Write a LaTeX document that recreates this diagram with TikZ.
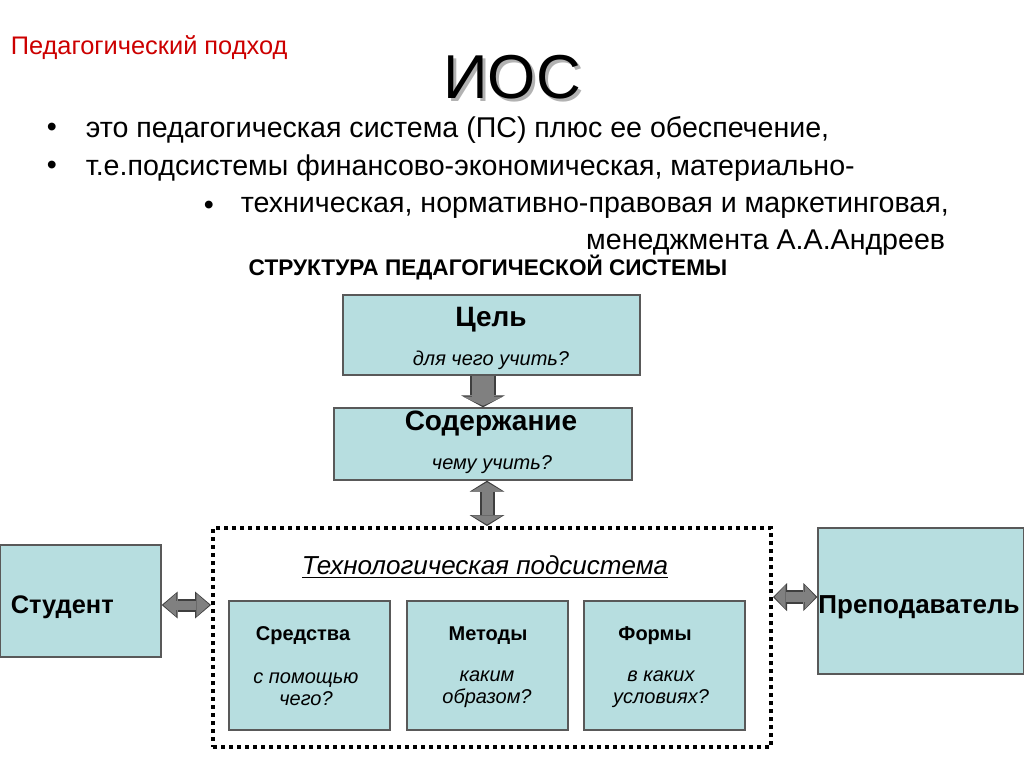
\documentclass[tikz,border=0pt]{standalone}
\usepackage{fontspec}
\setmainfont{Liberation Sans}
\usetikzlibrary{arrows.meta,positioning}
\definecolor{boxfill}{HTML}{B7DEE0}
\definecolor{boxline}{HTML}{595959}
\definecolor{arrfill}{HTML}{808080}
\definecolor{arrline}{HTML}{3F3F3F}
\definecolor{redtxt}{HTML}{CC0000}

\begin{document}
\begin{tikzpicture}[x=0.5pt, y=-0.5pt, thick,
  box/.style={draw=boxline, fill=boxfill, line width=0.7pt, inner sep=0pt},
  bul/.style={font=\fontsize{14.3}{16}\selectfont, inner sep=0pt},
  ttl/.style={font=\fontsize{14}{16}\selectfont\bfseries, inner sep=0pt},
  qst/.style={font=\fontsize{10}{11}\selectfont\itshape, align=center, inner sep=0pt},
  sttl/.style={font=\fontsize{10}{12}\selectfont\bfseries, inner sep=0pt},
  arrO/.style={draw=arrline, line width=#1},
  arrI/.style={draw=arrfill, line width=#1}]
  % page frame, 1 unit = 1 px of the slide
  \useasboundingbox (0,0) rectangle (1024,768);

  % heading
  \node[anchor=west, inner sep=0pt, text=redtxt, font=\fontsize{12.7}{14}\selectfont] (podhod) at (10,48) {Педагогический подход};
  \node[inner sep=0pt, text=black!30, font=\fontsize{31}{34}\selectfont] (iosS) at (515,80) {ИОС};
  \node[inner sep=0pt, font=\fontsize{31}{34}\selectfont] (ios) at (512,77) {ИОС};

  % bullets
  \node[bul] (dot1) at (52,130) {•};
  \node[bul, anchor=west] (b1) at (85,130) {это педагогическая система (ПС) плюс ее обеспечение,};
  \node[bul] (dot2) at (52,168) {•};
  \node[bul, anchor=west] (b2) at (85,168) {т.е.подсистемы финансово-экономическая, материально-};
  \node[bul] (dot3) at (209,208) {•};
  \node[bul, anchor=west] (b3) at (240,208) {техническая, нормативно-правовая и маркетинговая,};
  \node[bul, anchor=east] (b4) at (946,243) {менеджмента А.А.Андреев};

  \node[inner sep=0pt, font=\fontsize{11.3}{13}\selectfont\bfseries] (head) at (488,268) {СТРУКТУРА ПЕДАГОГИЧЕСКОЙ СИСТЕМЫ};

  % upper boxes
  \node[box, minimum width=148.5pt, minimum height=40pt] (cel) at (491.5,335) {};
  \node[ttl] (celT) at (491,320) {Цель};
  \node[qst] (celQ) at (491,360) {для чего учить?};
  \node[box, minimum width=149pt, minimum height=36pt] (sod) at (483,444) {};
  \node[ttl] (sodT) at (491,424) {Содержание};
  \node[qst] (sodQ) at (492,465) {чему учить?};

  % technological subsystem
  \node[draw, line width=2pt, dash pattern=on 2pt off 2pt, minimum width=279pt, minimum height=109.5pt, inner sep=0pt] (tech) at (492,637.5) {};
  \node[inner sep=0pt, font=\fontsize{13}{15}\selectfont\itshape] (techT) at (485,567) {\underline{Технологическая подсистема}};
  \node[box, minimum width=80.5pt, minimum height=64.5pt] (sred) at (309.5,665.5) {};
  \node[sttl] (sredT) at (303,636) {Средства};
  \node[qst] (sredQ) at (306,689) {с помощью\\чего?};
  \node[box, minimum width=80.5pt, minimum height=64.5pt] (met) at (487.5,665.5) {};
  \node[sttl] (metT) at (488,636) {Методы};
  \node[qst] (metQ) at (487,689) {каким\\образом?};
  \node[box, minimum width=80.5pt, minimum height=64.5pt] (form) at (664.5,665.5) {};
  \node[sttl] (formT) at (655,636) {Формы};
  \node[qst] (formQ) at (661,689) {в каких\\условиях?};

  % side boxes
  \node[box, minimum width=80.5pt, minimum height=56pt] (stud) at (80.5,601) {};
  \node[anchor=west, inner sep=0pt, font=\fontsize{12.7}{14}\selectfont\bfseries] (studT) at (10,607) {Студент};
  \node[box, minimum width=103pt, minimum height=73pt] (prep) at (921,601) {};
  \node[inner sep=0pt, font=\fontsize{13}{15}\selectfont\bfseries] (prepT) at (919,607) {Преподаватель};

  % block arrows: dark outline first, grey fill on top
  \draw[arrO=13pt, -{Triangle[length=6pt,width=22pt,line width=0pt]}] (sod.north |- cel.south) -- (sod.north);
  \draw[arrI=11pt, -{Triangle[length=4.5pt,width=20pt,line width=0pt]}, shorten >=0.8pt] (sod.north |- cel.south) -- (sod.north);
  \draw[arrO=7.5pt, {Triangle[length=5.5pt,width=17.5pt,line width=0pt]}-{Triangle[length=5.5pt,width=17.5pt,line width=0pt]}] ([xshift=2pt]sod.south) -- ([xshift=2pt]sod.south |- tech.north);
  \draw[arrI=5.5pt, {Triangle[length=4.5pt,width=15.5pt,line width=0pt]}-{Triangle[length=4.5pt,width=15.5pt,line width=0pt]}, shorten >=0.8pt, shorten <=0.8pt] ([xshift=2pt]sod.south) -- ([xshift=2pt]sod.south |- tech.north);
  \draw[arrO=6.5pt, {Triangle[length=8pt,width=13.5pt,line width=0pt]}-{Triangle[length=8pt,width=13.5pt,line width=0pt]}] ([yshift=-2pt]stud.east) -- ([yshift=-2pt]stud.east -| tech.west);
  \draw[arrI=4.5pt, {Triangle[length=6.5pt,width=11.5pt,line width=0pt]}-{Triangle[length=6.5pt,width=11.5pt,line width=0pt]}, shorten >=0.8pt, shorten <=0.8pt] ([yshift=-2pt]stud.east) -- ([yshift=-2pt]stud.east -| tech.west);
  \draw[arrO=7pt, {Triangle[length=7pt,width=14pt,line width=0pt]}-{Triangle[length=7pt,width=14pt,line width=0pt]}] ([yshift=2pt]tech.east |- prep.west) -- ([yshift=2pt]prep.west);
  \draw[arrI=5pt, {Triangle[length=5.5pt,width=12pt,line width=0pt]}-{Triangle[length=5.5pt,width=12pt,line width=0pt]}, shorten >=0.8pt, shorten <=0.8pt] ([yshift=2pt]tech.east |- prep.west) -- ([yshift=2pt]prep.west);
\end{tikzpicture}
\end{document}
